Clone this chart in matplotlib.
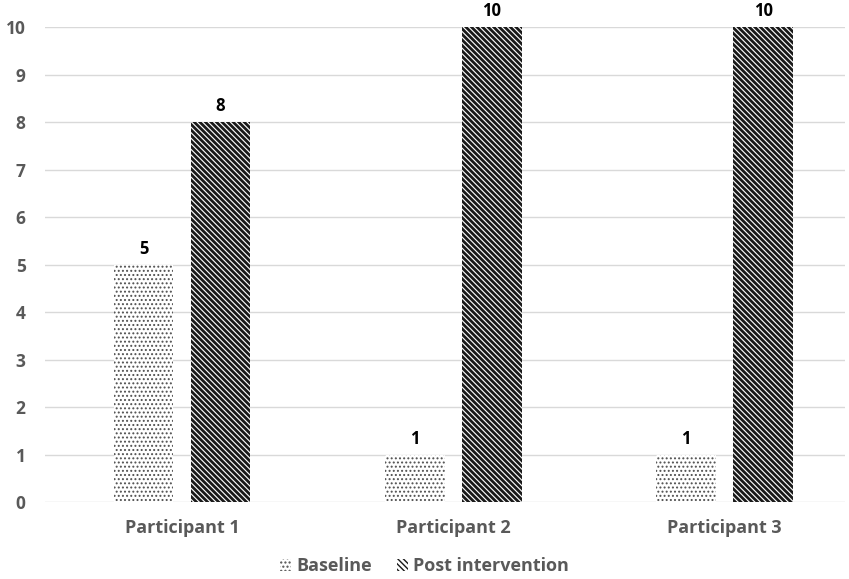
import matplotlib
matplotlib.use("Agg")
import matplotlib.pyplot as plt
import numpy as np

participants = ["Participant 1", "Participant 2", "Participant 3"]
baseline = [5, 1, 1]
post_intervention = [8, 10, 10]
series_names = ["Baseline", "Post intervention"]
y_ticks = list(range(0, 11))

plt.rcParams["font.family"] = ["Open Sans", "DejaVu Sans"]

fig = plt.figure(figsize=(8.49, 5.79), dpi=100)
ax = fig.add_axes([0.053, 0.133, 0.942, 0.82])

x = np.arange(len(participants))
width = 0.22
offset = 0.142

with plt.rc_context({"hatch.linewidth": 0.9}):
    b1 = ax.bar(x - offset, baseline, width, color="white", edgecolor="#505050",
                linewidth=0, hatch="." * 4, label=series_names[0], zorder=2)
with plt.rc_context({"hatch.linewidth": 2.0}):
    b2 = ax.bar(x + offset, post_intervention, width, color="white", edgecolor="#1a1a1a",
                linewidth=0, hatch="\\" * 6, label=series_names[1], zorder=2)

for bars, vals in ((b1, baseline), (b2, post_intervention)):
    for rect, v in zip(bars, vals):
        ax.annotate(f"{v}", (rect.get_x() + rect.get_width() / 2, v),
                    xytext=(0, 5), textcoords="offset points",
                    ha="center", va="bottom", fontsize=12, fontweight="bold",
                    color="black", annotation_clip=False)

ax.set_ylim(0, 10)
ax.set_xlim(-0.505, 2.442)
ax.set_yticks(y_ticks)
ax.set_xticks(x)
ax.set_xticklabels(participants)
ax.yaxis.grid(True, color="#d9d9d9", linewidth=1, zorder=0)
ax.set_axisbelow(True)
for s in ax.spines.values():
    s.set_visible(False)
ax.tick_params(axis="y", length=0, colors="#595959", labelsize=12.5, pad=14)
ax.tick_params(axis="x", length=0, colors="#595959", labelsize=13, pad=12)
for lbl in ax.get_xticklabels() + ax.get_yticklabels():
    lbl.set_fontweight("bold")

leg = fig.legend(handles=[b1, b2], labels=series_names, loc="lower center",
                 bbox_to_anchor=(0.5, -0.022), ncol=2, frameon=False,
                 handlelength=0.6, handleheight=0.7, handletextpad=0.3,
                 columnspacing=1.4, prop={"size": 13, "weight": "bold"})
for t in leg.get_texts():
    t.set_color("#595959")

fig.savefig("out.png", dpi=100)
